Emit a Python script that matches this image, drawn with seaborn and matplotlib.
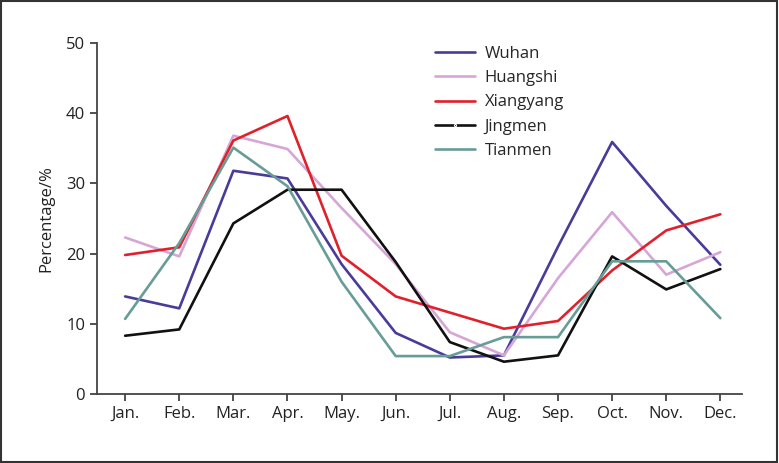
import pandas as pd
import matplotlib
matplotlib.use("Agg")
import matplotlib.pyplot as plt
import seaborn as sns

sns.set_style("ticks")
plt.rcParams['font.family'] = ['Open Sans', 'DejaVu Sans']

months = ['Jan.', 'Feb.', 'Mar.', 'Apr.', 'May.', 'Jun.',
          'Jul.', 'Aug.', 'Sep.', 'Oct.', 'Nov.', 'Dec.']

wuhan = [13.9, 12.2, 31.8, 30.7, 18.5, 8.7, 5.2, 5.5, 21.0, 35.9, 26.8, 18.4]
huangshi = [22.3, 19.6, 36.8, 34.9, 26.5, 18.5, 8.8, 5.5, 16.5, 25.9, 17.0, 20.2]
xiangyang = [19.8, 20.9, 36.1, 39.6, 19.7, 13.9, 11.6, 9.3, 10.4, 17.6, 23.3, 25.6]
jingmen = [8.3, 9.2, 24.3, 29.1, 29.1, 18.8, 7.4, 4.6, 5.5, 19.6, 14.9, 17.8]
tianmen = [10.7, 21.5, 35.1, 29.6, 16.0, 5.4, 5.4, 8.1, 8.1, 18.9, 18.9, 10.8]

cities = ['Wuhan', 'Huangshi', 'Xiangyang', 'Jingmen', 'Tianmen']
colors = ['#4a3b9b', '#d6a6d6', '#e0202b', '#111111', '#679c97']

frames = []
for city, vals in zip(cities, [wuhan, huangshi, xiangyang, jingmen, tianmen]):
    frames.append(pd.DataFrame({'month': range(len(months)), 'value': vals, 'city': city}))
df = pd.concat(frames, ignore_index=True)

fig = plt.figure(figsize=(7.79, 4.63), dpi=100)
ax = fig.add_axes([97 / 779, 69 / 463, 645 / 779, 351 / 463])

sns.lineplot(data=df, x='month', y='value', hue='city', hue_order=cities,
             palette=colors, linewidth=1.9, ax=ax)

# Jingmen gets a tiny dot marker in the legend
handles, labels = ax.get_legend_handles_labels()
handles[3].set_marker('.')
handles[3].set_markersize(3)
ax.legend(handles, labels, loc='upper left', bbox_to_anchor=(0.5, 1.035),
          frameon=False, fontsize=12, handlelength=2.4, handletextpad=0.6,
          labelspacing=0.5)

ax.set_xlim(-0.52, 11.4)
ax.set_ylim(0, 50)
ax.set_xticks(range(len(months)))
ax.set_xticklabels(months)
ax.set_yticks([0, 10, 20, 30, 40, 50])
ax.set_xlabel('')
ax.set_ylabel('Percentage/%', fontsize=12, color='#222222', labelpad=8)
ax.tick_params(labelsize=12, colors='#333333', labelcolor='#222222', length=5, width=1.2)
for s in ['left', 'bottom']:
    ax.spines[s].set_color('#444444')
    ax.spines[s].set_linewidth(1.3)
sns.despine(ax=ax)

# border around the whole figure
fig.patches.append(plt.Rectangle((0.001, 0.002), 0.997, 0.996, transform=fig.transFigure,
                                 fill=False, edgecolor='#333333', linewidth=1.5))

fig.savefig('out.png', dpi=100)
